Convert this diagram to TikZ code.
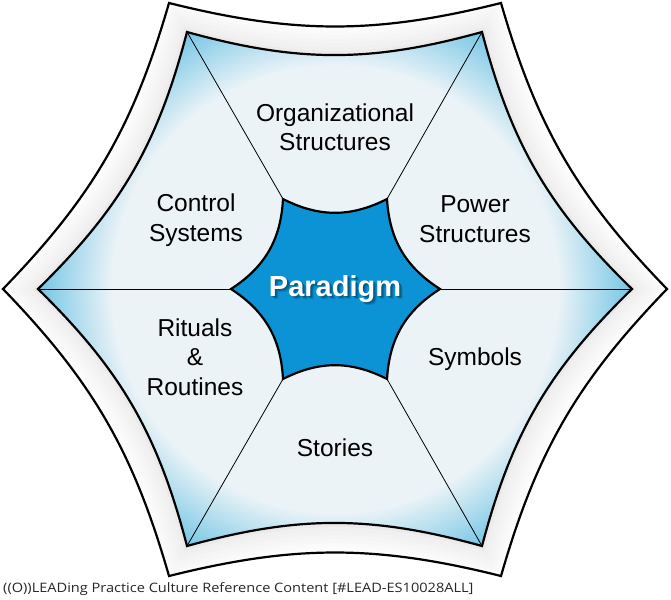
\documentclass[tikz,border=0pt]{standalone}
\usepackage{fontspec}
\setmainfont{Liberation Sans}
\newfontfamily\notefont[FakeStretch=1.12]{Open Sans}
\usepackage{tikz}
\definecolor{palefill}{HTML}{EBF3F7}
\definecolor{cornerblue}{HTML}{6FC4E4}
\definecolor{hubblue}{HTML}{0B93D5}
\definecolor{hubshade}{HTML}{053F60}
\pgfdeclareradialshading{rimglow}{\pgfpoint{0bp}{0bp}}{color(0bp)=(palefill); color(18.6bp)=(palefill); color(25bp)=(cornerblue); color(50bp)=(cornerblue)}
\tikzset{
    %Define style for the outlines
    rim/.style={
           draw=black,
           line width=2.2pt,
           line join=miter},
    %Define style for spokes
    spoke/.style={
           draw=black,
           line width=0.8pt},
    %Define style for labels
    punkt/.style={
           align=center,
           font=\fontsize{24.5}{29.5}\selectfont,
           text=black},
    hubtext/.style={
           font=\fontsize{29}{34}\selectfont\bfseries}
}
% closed outlines, bent inwards
\newcommand{\outerpath}{(o1) to[bend right=14] (o2) to[bend right=14] (o3) to[bend right=14] (o4) to[bend right=14] (o5) to[bend right=14] (o6) to[bend right=14] cycle}
\newcommand{\innerpath}{(i1) to[bend right=15.5] (i2) to[bend right=15.5] (i3) to[bend right=15.5] (i4) to[bend right=15.5] (i5) to[bend right=15.5] (i6) to[bend right=15.5] cycle}
\newcommand{\hubpath}{(c1) to[bend right=27] (c2) to[bend right=27] (c3) to[bend right=27] (c4) to[bend right=27] (c5) to[bend right=27] (c6) to[bend right=27] cycle}
\begin{document}
\begin{tikzpicture}[x=1pt,y=-1pt]
\useasboundingbox (0,0) rectangle (671,599);
 %corners
\coordinate (o1) at (3,289);
\coordinate (o2) at (169,3);
\coordinate (o3) at (501,3);
\coordinate (o4) at (667,289);
\coordinate (o5) at (501,576);
\coordinate (o6) at (169,576);
\coordinate (i1) at (38,289);
\coordinate (i2) at (187,32);
\coordinate (i3) at (482,32);
\coordinate (i4) at (632,289);
\coordinate (i5) at (482,546);
\coordinate (i6) at (187,546);
\coordinate (c1) at (231,289);
\coordinate (c2) at (283,199);
\coordinate (c3) at (387,199);
\coordinate (c4) at (440,289);
\coordinate (c5) at (387,379);
\coordinate (c6) at (283,379);

 %grey band
\begin{scope}
\clip \outerpath;
\fill[white] (0,0) rectangle (671,599);
\foreach \w/\g in {56/1,48/2,40/3,32/4,24/5,16/6,8/8}
    \draw[black!\g,line width=\w pt] \innerpath;
\end{scope}
\draw[rim] \outerpath;

 %light field
\begin{scope}
\clip \innerpath;
\shade[shading=rimglow] (335,289) circle (300);
\end{scope}

 %spokes
\path[spoke]
    (i1) edge (c1)
    (i2) edge (c2)
    (i3) edge (c3)
    (i4) edge (c4)
    (i5) edge (c5)
    (i6) edge (c6);

\draw[rim] \innerpath;
\fill[hubblue] \hubpath;
\draw[rim] \hubpath;

 %labels
\node[punkt](organizational) at (335,127){Organizational\\Structures};
\node[punkt](power) at (475,219){Power\\Structures};
\node[punkt](symbols) at (475,359){Symbols};
\node[punkt](stories) at (335,448){Stories};
\node[punkt](rituals) at (195,357){Rituals\\\&\\Routines};
\node[punkt](control) at (196,220){Control\\Systems};

 %centre label with soft shadow
\foreach \dx/\dy/\o in {3.5/3.5/.2,2.5/2.5/.35,1.5/1.5/.4}
    \node[hubtext,text=hubshade,opacity=\o] at (335+\dx,289+\dy){Paradigm};
\node[hubtext,text=white](paradigm) at (335,289){Paradigm};

\node[anchor=west,inner sep=0pt,font=\notefont\fontsize{13}{15}\selectfont,text=black!85](note) at (3,589){((O))LEADing Practice Culture Reference Content [\#LEAD-ES10028ALL]};
\end{tikzpicture}
\end{document}
